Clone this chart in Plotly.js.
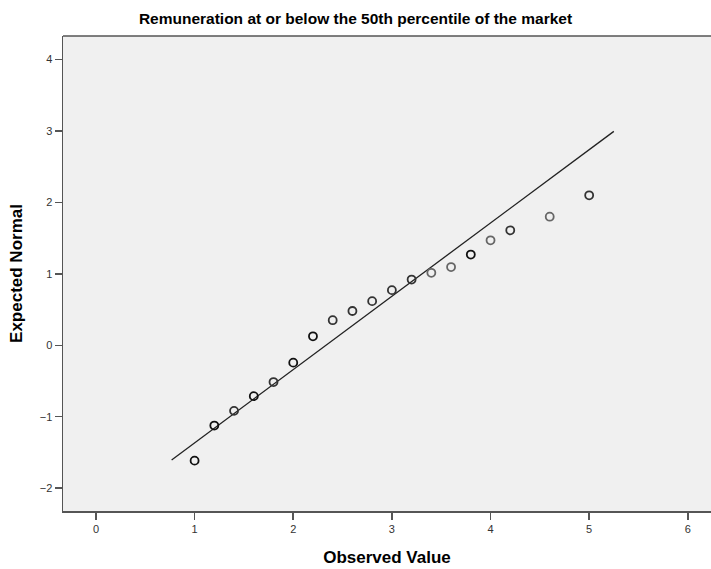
<!DOCTYPE html>
<html>
<head>
<meta charset="utf-8">
<script src="https://cdn.plot.ly/plotly-3.0.1.min.js"></script>
<style>body{margin:0;padding:0;background:#fff}#chart{width:711px;height:569px}</style>
</head>
<body>
<div id="chart"></div>
<script>
// Observed values and expected normal quantiles
const observed = [1.0, 1.2, 1.4, 1.6, 1.8, 2.0, 2.2, 2.4, 2.6, 2.8, 3.0, 3.2, 3.4, 3.6, 3.8, 4.0, 4.2, 4.6, 5.0];
const expected = [-1.615, -1.124, -0.918, -0.712, -0.515, -0.243, 0.126, 0.351, 0.48, 0.618, 0.772, 0.92, 1.015, 1.095, 1.27, 1.47, 1.61, 1.80, 2.10];
// rough number of cases overlapping at each point (darker rings)
const frequency = [3, 3, 2, 3, 2, 3, 3, 2, 2, 2, 2, 2, 1, 1, 3, 1, 2, 1, 2];
// reference line endpoints
const lineX = [0.767, 5.25];
const lineY = [-1.605, 2.995];

const ringColors = frequency.map(f => f >= 3 ? '#111111' : (f === 2 ? '#333333' : '#666666'));

const traces = [
  {x: lineX, y: lineY, mode: 'lines', type: 'scatter', line: {color: '#222', width: 1.3}, hoverinfo: 'skip', showlegend: false},
  {x: observed, y: expected, mode: 'markers', type: 'scatter', showlegend: false,
   marker: {symbol: 'circle-open', size: 8, color: ringColors, line: {width: 1.8, color: ringColors}}}
];

const axisFont = {family: '"Liberation Sans Narrow", "Arial Narrow", "Liberation Sans", Arial, sans-serif', size: 11, color: '#333'};

const layout = {
  width: 711, height: 569,
  margin: {l: 63, r: 0, t: 36, b: 58},
  paper_bgcolor: '#ffffff',
  plot_bgcolor: '#f0f0f0',
  title: {text: 'Remuneration at or below the 50th percentile of the market',
          font: {family: '"Liberation Sans Narrow", "Arial Narrow", "Liberation Sans", Arial, sans-serif', size: 15.5, color: '#000', weight: 'bold'},
          x: 0.5, xanchor: 'center', y: 0.968, yanchor: 'middle'},
  xaxis: {range: [-0.334, 6.235], tickvals: [0,1,2,3,4,5,6], ticks: 'outside', ticklen: 7, tickwidth: 1.5, tickcolor: '#555',
          showgrid: false, zeroline: false, showline: true, linecolor: '#555', linewidth: 1.5, mirror: false,
          tickfont: axisFont,
          title: {text: 'Observed Value', standoff: 17,
                  font: {family: '"Liberation Sans Narrow", "Arial Narrow", "Liberation Sans", Arial, sans-serif', size: 17, color: '#000', weight: 'bold'}}},
  yaxis: {range: [-2.32, 4.33], tickvals: [-2,-1,0,1,2,3,4], ticks: 'outside', ticklen: 7, tickwidth: 1.5, tickcolor: '#555',
          showgrid: false, zeroline: false, showline: true, linecolor: '#555', linewidth: 1.5, mirror: false,
          tickfont: axisFont,
          title: {text: 'Expected Normal', standoff: 13,
                  font: {family: '"Liberation Sans", Arial, sans-serif', size: 17, color: '#000', weight: 'bold'}}},
  shapes: [
    {type: 'line', xref: 'paper', yref: 'paper', x0: 0, x1: 1, y0: 1, y1: 1, line: {color: '#555', width: 1.5}}
  ]
};

Plotly.newPlot('chart', traces, layout, {displayModeBar: false, staticPlot: true});
</script>
</body>
</html>
